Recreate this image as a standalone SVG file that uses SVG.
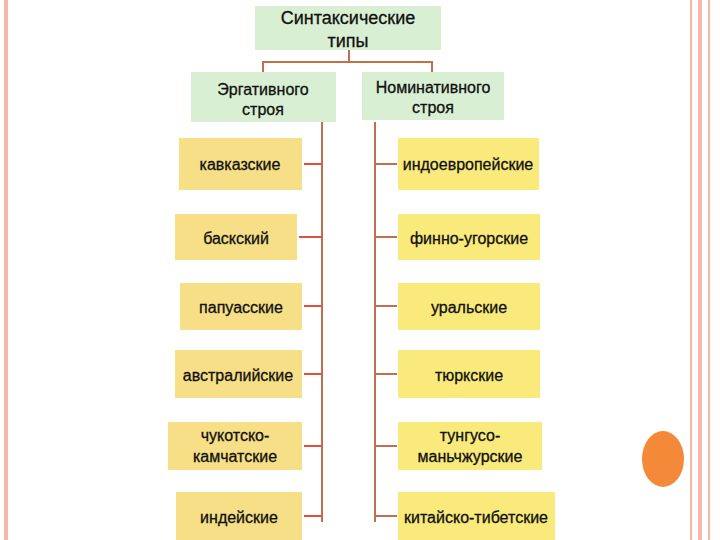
<svg xmlns="http://www.w3.org/2000/svg" width="720" height="540" viewBox="0 0 720 540">
<style>
text{font-family:"Liberation Sans",Arial,sans-serif;font-size:16px;fill:#111;text-anchor:middle;stroke:#111;stroke-width:0.3}
.t{font-size:18px}
.g{fill:#d9efd3}.yl{fill:#f6df86}.yr{fill:#faea7c}
.c{stroke:#c0704f;stroke-width:2;fill:none}
.r{stroke:#e0503f;stroke-width:2;fill:none}
</style>
<rect width="720" height="540" fill="#fff"/>
<rect x="4" y="0" width="4" height="540" fill="#f6b8a8"/>
<rect x="690" y="0" width="2" height="540" fill="#f6b8a8"/>
<rect x="698" y="0" width="4" height="540" fill="#f6b8a8"/>
<rect x="708" y="0" width="2" height="540" fill="#f6b8a8"/>
<ellipse cx="663" cy="459" rx="21" ry="28" fill="#f5893a"/>
<g id="connectors">
<path class="c" d="M349 50V62M263 72V62H432V72"/>
<path class="c" d="M322 122V522M375 122V522"/>
<path class="r" d="M304 164H322M299 237H322M304 306H322M304 374H322M304 446H322M304 516H322"/>
<path class="c" d="M375 164H397M375 237H397M375 306H397M375 374H397M375 446H397M375 516H397"/>
</g>
<g id="root"><rect class="g" x="255" y="6" width="186" height="44"/><text class="t" x="348" y="24">Синтаксические</text><text class="t" x="348" y="47">типы</text></g>
<g id="erg"><rect class="g" x="191" y="72" width="145" height="50"/><text x="263" y="95">Эргативного</text><text x="263" y="115">строя</text></g>
<g id="nom"><rect class="g" x="362" y="72" width="142" height="48"/><text x="433" y="93">Номинативного</text><text x="433" y="113">строя</text></g>
<g id="l1"><rect class="yl" x="179" y="138" width="123" height="52"/><text x="240" y="170">кавказские</text></g>
<g id="l2"><rect class="yl" x="175" y="214" width="122" height="46"/><text x="236" y="244">баскский</text></g>
<g id="l3"><rect class="yl" x="180" y="283" width="122" height="47"/><text x="241" y="313">папуасские</text></g>
<g id="l4"><rect class="yl" x="175" y="350" width="127" height="48"/><text x="238" y="381">австралийские</text></g>
<g id="l5"><rect class="yl" x="168" y="422" width="134" height="48"/><text x="235" y="441">чукотско-</text><text x="235" y="462">камчатские</text></g>
<g id="l6"><rect class="yl" x="176" y="492" width="126" height="48"/><text x="239" y="523">индейские</text></g>
<g id="r1"><rect class="yr" x="398" y="138" width="141" height="52"/><text x="468" y="170">индоевропейские</text></g>
<g id="r2"><rect class="yr" x="398" y="214" width="142" height="46"/><text x="469" y="244">финно-угорские</text></g>
<g id="r3"><rect class="yr" x="398" y="283" width="142" height="47"/><text x="469" y="313">уральские</text></g>
<g id="r4"><rect class="yr" x="398" y="350" width="142" height="48"/><text x="469" y="381">тюркские</text></g>
<g id="r5"><rect class="yr" x="398" y="422" width="144" height="48"/><text x="470" y="441">тунгусо-</text><text x="470" y="462">маньчжурские</text></g>
<g id="r6"><rect class="yr" x="398" y="492" width="157" height="48"/><text x="476" y="523">китайско-тибетские</text></g>
</svg>
